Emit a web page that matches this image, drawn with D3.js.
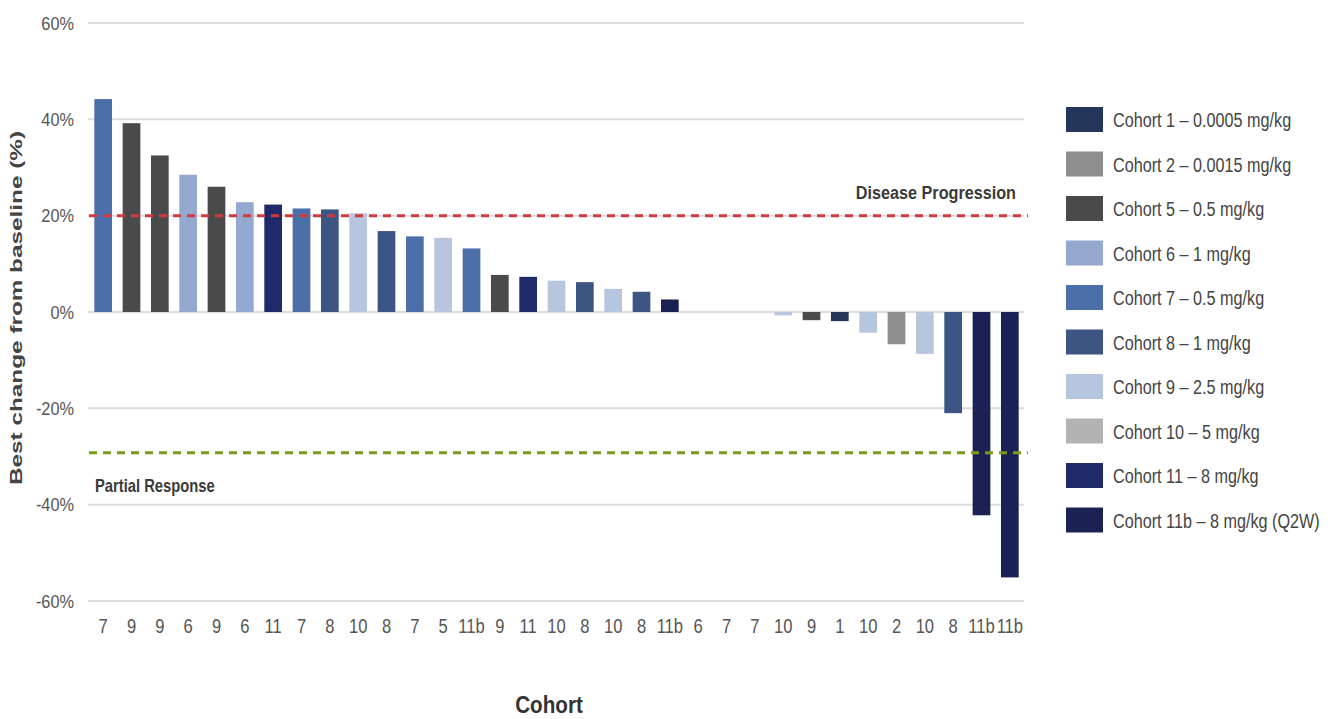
<!DOCTYPE html>
<html>
<head>
<meta charset="utf-8">
<script src="https://cdn.jsdelivr.net/npm/d3@7"></script>
<style>
  html, body { margin: 0; padding: 0; background: #fff; }
  svg { display: block; font-family: "Liberation Sans", Arial, sans-serif; }
</style>
</head>
<body>
<svg id="chart" width="1333" height="719"></svg>
<script>
// Patients ordered by best change from baseline (%), labelled by cohort
const cohortLabels = ["7","9","9","6","9","6","11","7","8","10","8","7","5","11b","9","11","10","8","10","8","11b","6","7","7","10","9","1","10","2","10","8","11b","11b"];
const bestChange = [44.2, 39.2, 32.5, 28.5, 26.0, 22.8, 22.3, 21.5, 21.3, 20.5, 16.8, 15.7, 15.4, 13.2, 7.7, 7.3, 6.5, 6.2, 4.8, 4.2, 2.6, 0, 0, 0, -0.7, -1.7, -1.9, -4.3, -6.7, -8.7, -21.0, -42.2, -55.1];
const yTicks = [-60, -40, -20, 0, 20, 40, 60];
const legendNames = ["Cohort 1 \u2013 0.0005 mg/kg", "Cohort 2 \u2013 0.0015 mg/kg", "Cohort 5 \u2013 0.5 mg/kg", "Cohort 6 \u2013 1 mg/kg", "Cohort 7 \u2013 0.5 mg/kg", "Cohort 8 \u2013 1 mg/kg", "Cohort 9 \u2013 2.5 mg/kg", "Cohort 10 \u2013 5 mg/kg", "Cohort 11 \u2013 8 mg/kg", "Cohort 11b \u2013 8 mg/kg (Q2W)"];
const thresholds = [
  { name: "Disease Progression", value: 20 },
  { name: "Partial Response", value: -29.2 }
];

// Colour swatches used by the legend, and the swatch each bar is filled with
const legendColors = ["#243659", "#8e8e8e", "#4a4a4a", "#95a9d0", "#4c6fa9", "#3c5583", "#b8c5de", "#b3b3b3", "#1f2a6b", "#1b2152"];
const barSwatch = [4, 2, 2, 3, 2, 3, 8, 4, 5, 6, 5, 4, 6, 4, 2, 8, 6, 5, 6, 5, 9, 3, 4, 4, 6, 2, 0, 6, 1, 6, 5, 9, 9];
const thresholdColors = ["#d13a3f", "#7a9a1c"];

const svg = d3.select("#chart");
const margin = { left: 89, right: 1024, top: 23, bottom: 601 };

// Condensed lettering: squeeze text horizontally about its anchor point
const condense = (sel, k) => sel.attr("transform", `scale(${k},1)`);

const x = d3.scaleBand()
  .domain(d3.range(cohortLabels.length))
  .range([margin.left, margin.right])
  .paddingInner(0.375)
  .paddingOuter(0.1875);

const y = d3.scaleLinear()
  .domain([-60, 60])
  .range([margin.bottom, margin.top]);

// Horizontal gridlines
svg.append("g")
  .selectAll("line")
  .data(yTicks)
  .join("line")
  .attr("x1", margin.left - 1)
  .attr("x2", margin.right)
  .attr("y1", d => y(d))
  .attr("y2", d => y(d))
  .attr("stroke", "#dcdcdc")
  .attr("stroke-width", 2);

// Y axis labels
const yAxis = d3.axisLeft(y).tickValues(yTicks).tickFormat(d => d + "%").tickSize(0).tickPadding(0);
svg.append("g")
  .attr("transform", `translate(74,0)`)
  .call(yAxis)
  .call(g => g.select(".domain").remove())
  .call(g => g.selectAll("text")
    .attr("font-size", 19).attr("fill", "#555").attr("font-family", null)
    .call(condense, 0.86));

// Bars
svg.append("g")
  .selectAll("rect")
  .data(bestChange)
  .join("rect")
  .attr("x", (d, i) => x(i))
  .attr("width", x.bandwidth())
  .attr("y", d => y(Math.max(0, d)))
  .attr("height", d => Math.abs(y(d) - y(0)))
  .attr("fill", (d, i) => legendColors[barSwatch[i]]);

// X axis labels
const xAxis = d3.axisBottom(x).tickFormat(i => cohortLabels[i]).tickSize(0).tickPadding(0);
svg.append("g")
  .attr("transform", `translate(0,619)`)
  .call(xAxis)
  .call(g => g.select(".domain").remove())
  .call(g => g.selectAll("text")
    .attr("font-size", 19.5).attr("fill", "#555").attr("font-family", null)
    .call(condense, 0.85));

// Threshold lines
svg.append("g")
  .selectAll("line")
  .data(thresholds)
  .join("line")
  .attr("x1", margin.left)
  .attr("x2", 1028)
  .attr("y1", d => y(d.value))
  .attr("y2", d => y(d.value))
  .attr("stroke", (d, i) => thresholdColors[i])
  .attr("stroke-width", 3)
  .attr("stroke-dasharray", "8,6");

svg.append("g")
  .attr("transform", `translate(1016,${y(thresholds[0].value) - 17})`)
  .append("text")
  .attr("text-anchor", "end")
  .attr("font-size", 18)
  .attr("font-weight", "bold")
  .attr("fill", "#3a3a3a")
  .text(thresholds[0].name)
  .call(condense, 0.9);

svg.append("g")
  .attr("transform", `translate(95,${y(thresholds[1].value) + 39})`)
  .append("text")
  .attr("text-anchor", "start")
  .attr("font-size", 18)
  .attr("font-weight", "bold")
  .attr("fill", "#3a3a3a")
  .text(thresholds[1].name)
  .call(condense, 0.82);

// Axis titles
svg.append("text")
  .attr("transform", `translate(22,${(margin.top + margin.bottom) / 2 - 4}) rotate(-90)`)
  .attr("text-anchor", "middle")
  .attr("font-size", 16)
  .attr("font-weight", "bold")
  .attr("fill", "#444")
  .attr("textLength", 354)
  .attr("lengthAdjust", "spacingAndGlyphs")
  .text("Best change from baseline (%)");

svg.append("g")
  .attr("transform", "translate(549,713)")
  .append("text")
  .attr("text-anchor", "middle")
  .attr("font-size", 24)
  .attr("font-weight", "bold")
  .attr("fill", "#333")
  .text("Cohort")
  .call(condense, 0.86);

// Legend
const legend = svg.append("g")
  .selectAll("g")
  .data(legendNames)
  .join("g")
  .attr("transform", (d, i) => `translate(1066,${107 + i * 44.5})`);

legend.append("rect")
  .attr("width", 37)
  .attr("height", 25)
  .attr("fill", (d, i) => legendColors[i]);

legend.append("g")
  .attr("transform", "translate(47,13)")
  .append("text")
  .attr("dy", "0.35em")
  .attr("font-size", 20)
  .attr("fill", "#444")
  .text(d => d)
  .call(condense, 0.81);
</script>
</body>
</html>
